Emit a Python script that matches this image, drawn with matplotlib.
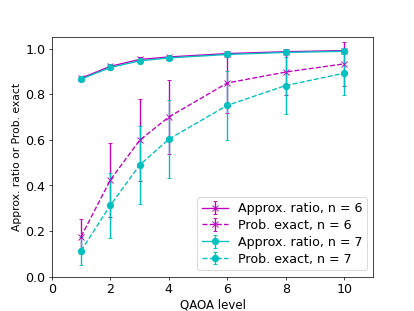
import matplotlib
matplotlib.use('Agg')
import matplotlib.pyplot as plt

levels = [1, 2, 3, 4, 6, 8, 10]

ratio6 = [0.870, 0.922, 0.952, 0.963, 0.978, 0.986, 0.991]
ratio6_err = [0.006, 0.010, 0.010, 0.010, 0.010, 0.008, 0.008]
exact6 = [0.176, 0.424, 0.598, 0.700, 0.849, 0.897, 0.933]
exact6_err = [0.078, 0.164, 0.180, 0.163, 0.130, 0.100, 0.095]

ratio7 = [0.866, 0.917, 0.946, 0.959, 0.974, 0.983, 0.988]
ratio7_err = [0.006, 0.010, 0.010, 0.010, 0.010, 0.008, 0.008]
exact7 = [0.114, 0.313, 0.489, 0.603, 0.751, 0.838, 0.892]
exact7_err = [0.062, 0.143, 0.170, 0.170, 0.150, 0.126, 0.097]

fig = plt.figure(figsize=(6.4, 4.8), dpi=64.84)
ax = fig.add_subplot(111)

ax.errorbar(levels, ratio6, yerr=ratio6_err, color='m', marker='x', ms=7, ls='-', capsize=2, label='Approx. ratio, n = 6')
ax.errorbar(levels, exact6, yerr=exact6_err, color='m', marker='x', ms=7, ls='--', capsize=2, label='Prob. exact, n = 6')
ax.errorbar(levels, ratio7, yerr=ratio7_err, color='c', marker='o', ms=7, ls='-', capsize=2, label='Approx. ratio, n = 7')
ax.errorbar(levels, exact7, yerr=exact7_err, color='c', marker='o', ms=7, ls='--', capsize=2, label='Prob. exact, n = 7')

ax.set_xlim(0, 11)
ax.set_ylim(0, 1.05)
ax.set_xticks([0, 2, 4, 6, 8, 10])
ax.tick_params(labelsize=14)
ax.set_xlabel('QAOA level', fontsize=13, labelpad=2)
ax.set_ylabel('Approx. ratio or Prob. exact', fontsize=12)
ax.legend(loc='lower right', fontsize=14, labelspacing=0.3)

fig.savefig('out.png')
